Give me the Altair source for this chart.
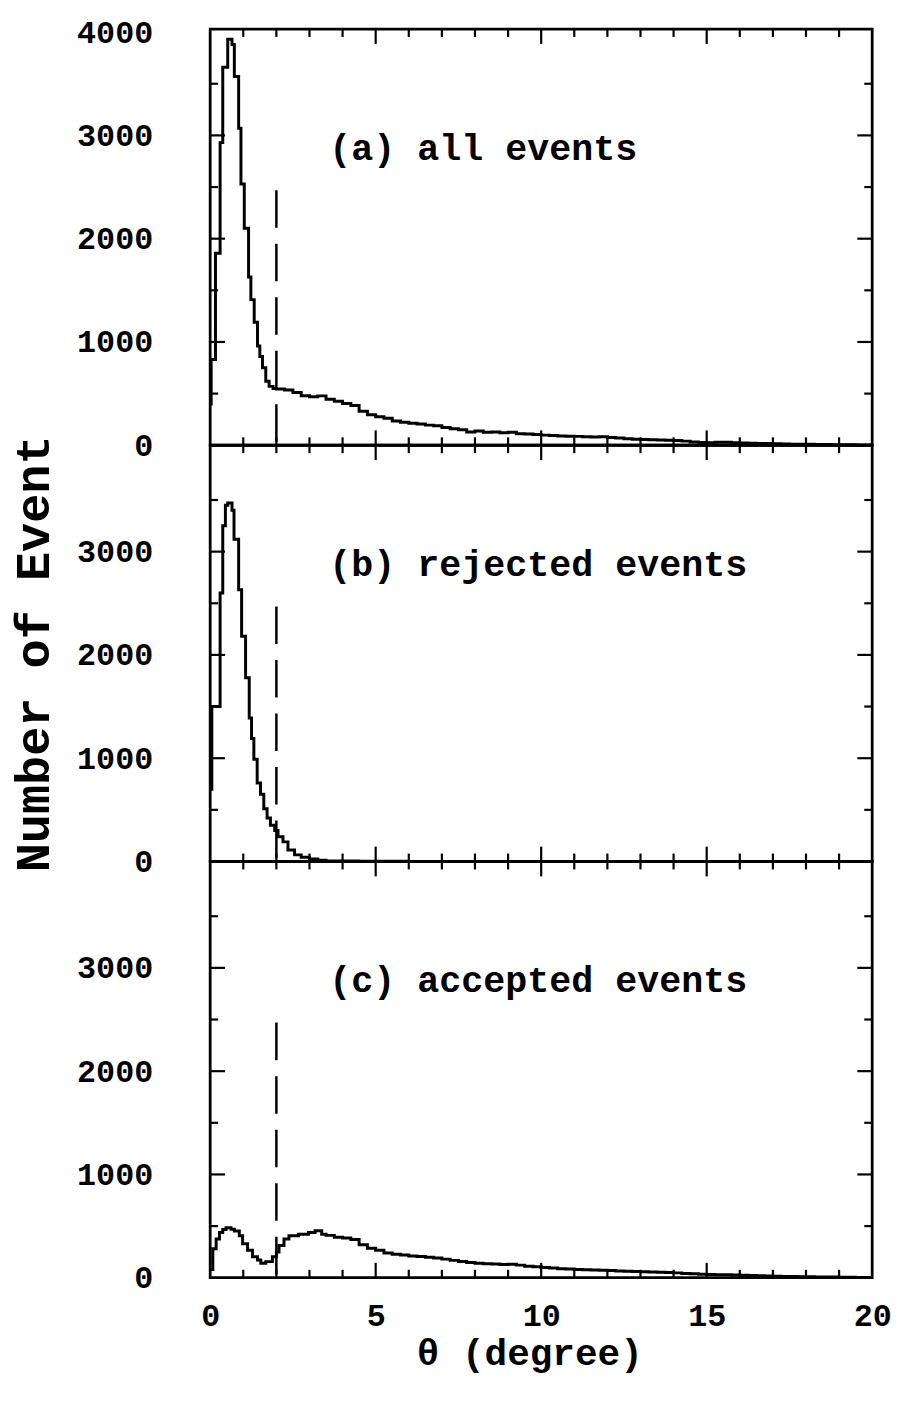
import altair as alt
import pandas as pd

# ---------------- data ----------------
# (a) all events : bin start (degree) and number of events
A_THETA = [0.00, 0.03, 0.16, 0.30, 0.38, 0.53, 0.66, 0.73, 0.86, 0.93, 1.03, 1.16, 1.23,
           1.33, 1.43, 1.50, 1.58, 1.68, 1.78, 1.90, 2.00, 2.25, 2.50, 2.75, 3.00, 3.25,
           3.50, 3.75, 4.00, 4.25, 4.50, 4.75, 5.00, 5.25, 5.50, 5.75, 6.00, 6.25, 6.50,
           6.75, 7.00, 7.25, 7.50, 7.75, 8.00, 8.25, 8.50, 8.75, 9.00, 9.25, 9.50, 9.75,
           10.00, 10.25, 10.50, 10.75, 11.00, 11.25, 11.50, 11.75, 12.00, 12.25, 12.50,
           12.75, 13.00, 13.25, 13.50, 13.75, 14.00, 14.25, 14.50, 14.75, 15.00, 15.25,
           15.50, 15.75, 16.00, 16.25, 16.50, 16.75, 17.00, 17.25, 17.50, 17.75, 18.00,
           18.25, 18.50, 18.75, 19.00, 19.25, 19.50, 19.75, 20.00]
A_COUNT = [400, 830, 1860, 2930, 3660, 3930, 3880, 3570, 3070, 2530, 2100, 1630, 1410,
           1190, 960, 860, 750, 620, 570, 550, 545, 535, 510, 480, 470, 478,
           445, 425, 405, 385, 330, 295, 275, 262, 235, 222, 212, 205, 195,
           188, 172, 160, 150, 128, 138, 126, 128, 120, 125, 112, 108, 104,
           98, 95, 90, 88, 86, 82, 80, 83, 75, 70, 64,
           58, 56, 53, 51, 48, 46, 40, 32, 26, 24, 30,
           28, 24, 22, 19, 17, 16, 14, 12, 11, 10, 9,
           8, 7, 6, 5, 4, 3, 3, 3]

# (b) rejected events
B_THETA = [0.00, 0.05, 0.30, 0.38, 0.46, 0.53, 0.66, 0.72, 0.86, 0.95, 1.07, 1.18, 1.25,
           1.32, 1.42, 1.52, 1.62, 1.72, 1.82, 1.95, 2.05, 2.20, 2.35, 2.55, 2.75, 3.00,
           3.25, 3.50, 4.00, 4.50, 5.00, 6.00, 8.00, 10.00, 20.00]
B_COUNT = [700, 1500, 2600, 3250, 3450, 3470, 3400, 3120, 2630, 2180, 1780, 1390, 1190,
           990, 760, 650, 510, 420, 350, 300, 240, 190, 112, 64, 40, 25,
           12, 6, 4, 3, 2, 1, 1, 0, 0]

# (c) accepted events
C_THETA = [0.00, 0.08, 0.18, 0.28, 0.38, 0.48, 0.63, 0.73, 0.88, 0.98, 1.13, 1.28, 1.43,
           1.53, 1.68, 1.88, 2.00, 2.08, 2.23, 2.38, 2.67, 2.97, 3.17, 3.37,
           3.50, 3.75, 4.00, 4.25, 4.50, 4.75, 5.00, 5.25, 5.50, 5.75, 6.00, 6.25, 6.50,
           6.75, 7.00, 7.25, 7.50, 7.75, 8.00, 8.25, 8.50, 8.75, 9.00, 9.25, 9.50, 9.75,
           10.00, 10.25, 10.50, 10.75, 11.00, 11.25, 11.50, 11.75, 12.00, 12.25, 12.50,
           12.75, 13.00, 13.25, 13.50, 13.75, 14.00, 14.25, 14.50, 14.75, 15.00, 15.25,
           15.50, 15.75, 16.00, 16.25, 16.50, 16.75, 17.00, 17.25, 17.50, 17.75, 18.00,
           18.25, 18.50, 18.75, 19.00, 19.25, 19.50, 19.75, 20.00]
C_COUNT = [80, 280, 375, 437, 468, 484, 470, 453, 406, 328, 265, 203, 172,
           140, 156, 203, 250, 312, 375, 406, 422, 437, 455, 420,
           410, 392, 385, 370, 320, 285, 265, 240, 228, 220, 210, 205, 198,
           192, 180, 168, 158, 148, 140, 135, 132, 128, 130, 122, 112, 106,
           100, 95, 88, 84, 80, 77, 74, 72, 70, 66, 62,
           60, 57, 55, 52, 50, 47, 42, 38, 34, 32, 30,
           28, 27, 25, 22, 19, 17, 15, 13, 12, 10, 9,
           8, 7, 6, 5, 4, 3, 3, 3]

PANEL_LABELS = ["(a) all events", "(b) rejected events", "(c) accepted events"]
CUT_ANGLE = 2.0
CUT_HEIGHT = 2470
LABEL_POS = (3.6, 2870)

X_LABELS = [0, 5, 10, 15, 20]
X_MAJOR = [5, 10, 15]
X_MINOR = [1, 2, 3, 4, 6, 7, 8, 9, 11, 12, 13, 14, 16, 17, 18, 19]
Y_LABELS_TOP = [0, 1000, 2000, 3000, 4000]
Y_LABELS = [0, 1000, 2000, 3000]
Y_MAJOR = [1000, 2000, 3000]
Y_MINOR = [500, 1500, 2500, 3500]

# ---------------- styling ----------------
W, H = 668, 420
MONO = "Liberation Mono"
MAJ, MIN = 15, 8
xs = alt.Scale(domain=[0, 20], nice=False, zero=False)
ys = alt.Scale(domain=[0, 4030], nice=False)


def x_ticks(vals, length):
    d = pd.DataFrame({"t": vals})
    top = alt.Chart(d).mark_rule(color="black", strokeWidth=2.2).encode(
        x=alt.X("t:Q", scale=xs), y=alt.value(0), y2=alt.value(length))
    bot = alt.Chart(d).mark_rule(color="black", strokeWidth=2.2).encode(
        x=alt.X("t:Q", scale=xs), y=alt.value(H), y2=alt.value(H - length))
    return [top, bot]


def y_ticks(vals, length):
    d = pd.DataFrame({"t": vals})
    left = alt.Chart(d).mark_rule(color="black", strokeWidth=2.2).encode(
        y=alt.Y("t:Q", scale=ys), x=alt.value(0), x2=alt.value(length))
    right = alt.Chart(d).mark_rule(color="black", strokeWidth=2.2).encode(
        y=alt.Y("t:Q", scale=ys), x=alt.value(W), x2=alt.value(W - length))
    return [left, right]


def panel(theta, count, label, y_labels, bottom, ytitle):
    df = pd.DataFrame({"theta": theta, "count": count})
    if bottom:
        xaxis = alt.Axis(values=X_LABELS, labels=True, labelFlush=False,
                         labelPadding=23, format="d",
                         title="θ (degree)", titleFontSize=38, titlePadding=4,
                         titleX=322, titleAlign="center")
    else:
        xaxis = alt.Axis(values=X_LABELS, labels=False, title="")
    if ytitle:
        yaxis = alt.Axis(values=y_labels, labelPadding=58, format="d",
                         title="Number of Event", titleFontSize=49,
                         titleAngle=270, titleX=-163, titleY=H / 2, titleAlign="center",
                         titleBaseline="alphabetic")
    else:
        yaxis = alt.Axis(values=y_labels, labelPadding=58, format="d", title="")

    hist = alt.Chart(df).mark_line(interpolate="step-after", color="black",
                                   strokeWidth=3).encode(
        x=alt.X("theta:Q", scale=xs, axis=xaxis),
        y=alt.Y("count:Q", scale=ys, axis=yaxis),
        order="theta:Q")

    cut = alt.Chart(pd.DataFrame({"label": [label]})).mark_rule(
        color="black", strokeWidth=2.5, strokeDash=[38, 16]).encode(
        x=alt.X(datum=CUT_ANGLE, scale=xs),
        y=alt.Y(datum=CUT_HEIGHT, scale=ys),
        y2=alt.Y2(datum=0))

    txt = alt.Chart(pd.DataFrame({"label": [label]})).mark_text(
        align="left", baseline="middle", font=MONO, fontSize=37, fontWeight="bold",
        color="black").encode(
        x=alt.X(datum=LABEL_POS[0], scale=xs),
        y=alt.Y(datum=LABEL_POS[1], scale=ys),
        text="label:N")

    layers = [hist, cut, txt]
    layers += x_ticks(X_MAJOR, MAJ) + x_ticks(X_MINOR, MIN)
    layers += y_ticks(Y_MAJOR, MAJ) + y_ticks(Y_MINOR, MIN)
    return alt.layer(*layers).properties(width=W, height=H)


pa = panel(A_THETA, A_COUNT, PANEL_LABELS[0], Y_LABELS_TOP, False, False)
pb = panel(B_THETA, B_COUNT, PANEL_LABELS[1], Y_LABELS, False, True)
pc = panel(C_THETA, C_COUNT, PANEL_LABELS[2], Y_LABELS, True, False)

chart = alt.vconcat(pa, pb, pc, spacing=0, bounds="flush").properties(
    padding={"left": 0, "top": 0, "right": 0, "bottom": 0}
).configure_view(
    stroke="black", strokeWidth=2.8
).configure_axis(
    ticks=False, tickSize=0, domain=False, grid=False, labelOverlap=False,
    labelFont=MONO, labelFontSize=32, labelFontWeight="bold", labelColor="black",
    titleFont=MONO, titleFontWeight="bold", titleColor="black"
)

chart.save("out.html", embed_options={"renderer": "svg", "actions": False})
